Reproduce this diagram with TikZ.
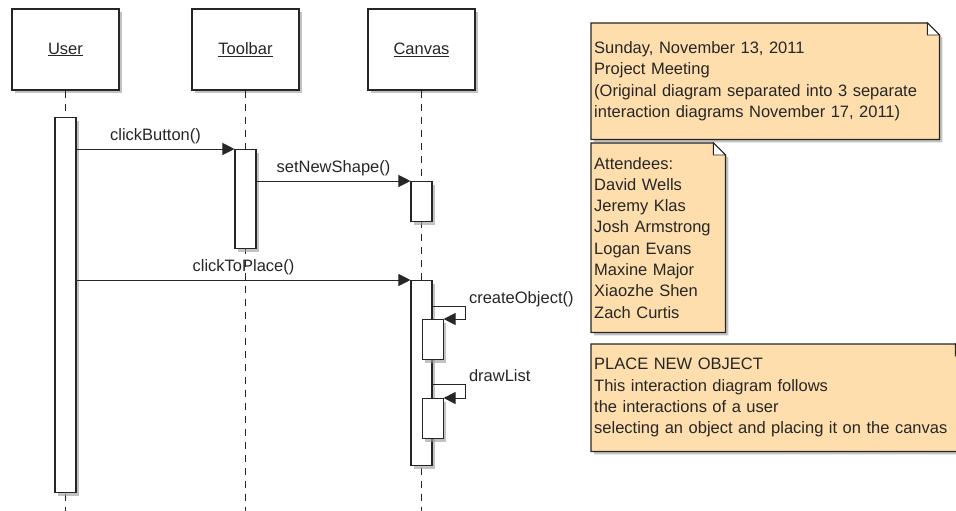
\documentclass[tikz,border=0pt]{standalone}
\usepackage{fontspec}
\setmainfont{Liberation Sans}
\usepackage{xcolor}
\usetikzlibrary{arrows.meta,positioning,shadows,backgrounds}
\definecolor{notefill}{RGB}{255,222,173}

\begin{document}
\begin{tikzpicture}[x=1pt, y=-1pt,
  font=\fontsize{16.5}{21.3}\selectfont, text=black!85,
  shade/.style={drop shadow={shadow xshift=3pt, shadow yshift=-3pt, fill=black!40, opacity=.6}},
  head/.style={draw=black!85, line width=1.2pt, fill=white, shade,
    minimum width=107pt, minimum height=81pt},
  act/.style={draw=black!85, line width=1.1pt, fill=white, shade,
    minimum width=21pt, anchor=north, inner sep=0},
  lifeline/.style={black!85, line width=0.9pt, dash pattern=on 7pt off 6pt},
  msg/.style={black!85, line width=1pt, -{Triangle[length=12pt, width=12pt]}},
  msglab/.style={midway, anchor=base, yshift=8.5pt, inner sep=0},
  note/.style={anchor=north west, inner xsep=3pt, inner ysep=0pt, align=left},
  notebox/.style={draw=black!85, line width=1.2pt, fill=notefill, shade},
  fold/.style={draw=black!85, line width=0.9pt, fill=white}]
\path[use as bounding box, clip] (0,0) rectangle (956,511);
% ---- lifeline heads ----
\node[head] (user) at (65.5,49.5) {\underline{User}};
\node[head] (toolbar) at (245.5,49.5) {\underline{Toolbar}};
\node[head] (canvas) at (421.5,49.5) {\underline{Canvas}};
\draw[lifeline] (user.south) -- (user.south |- 0,511);
\draw[lifeline] (toolbar.south) -- (toolbar.south |- 0,511);
\draw[lifeline] (canvas.south) -- (canvas.south |- 0,511);
% ---- activations ----
\node[act, minimum height=375pt] (ua) at (65.5,117) {};
\node[act, minimum height=99pt] (tb) at (245.5,149) {};
\node[act, minimum height=40pt] (ca1) at (421.5,181) {};
\node[act, minimum height=185pt] (ca2) at (421.5,280) {};
\node[act, minimum height=40pt] (ca3) at (ca2.east |- 0,319) {};
\node[act, minimum height=40pt] (ca4) at (ca2.east |- 0,398) {};
% ---- messages ----
\draw[msg] (ua.east |- tb.north west) -- (tb.north west)
  node[msglab] {clickButton()};
\draw[msg] (tb.east |- ca1.north west) -- (ca1.north west)
  node[msglab] {setNewShape()};
\draw[msg] (ua.east |- ca2.north west) -- (ca2.north west)
  node[msglab] {clickToPlace()};
\draw[msg] (ca2.east |- 0,306) -- ++(33,0)
  node[pos=1, anchor=base west, xshift=3pt, yshift=3pt, inner sep=0] {createObject()}
  |- (ca3.north east);
\draw[msg] (ca2.east |- 0,384) -- ++(33,0)
  node[pos=1, anchor=base west, xshift=3pt, yshift=2.5pt, inner sep=0] {drawList}
  |- (ca4.north east);
% ---- notes ----
\node[note, text width=342pt, minimum height=116pt] (meeting) at (591,23)
  {Sunday, November 13, 2011\\ Project Meeting\\
   (Original diagram separated into 3 separate\\
   interaction diagrams November 17, 2011)};
\node[note, text width=128pt, minimum height=189pt] (attendees) at (591,143)
  {Attendees:\\ David Wells\\ Jeremy Klas\\ Josh Armstrong\\ Logan Evans\\
   Maxine Major\\ Xiaozhe Shen\\ Zach Curtis};
\node[note, text width=370pt, minimum height=107pt] (purpose) at (591,344)
  {PLACE NEW OBJECT\\ This interaction diagram follows\\
   the interactions of a user\\
   selecting an object and placing it on the canvas};
\begin{scope}[on background layer]
\foreach \n in {meeting,attendees,purpose} {
  \draw[notebox] (\n.north west) -- ([xshift=-12pt]\n.north east)
    -- ([yshift=-12pt]\n.north east) -- (\n.south east) -- (\n.south west) -- cycle;
  \draw[fold] ([xshift=-12pt]\n.north east) |- ([yshift=-12pt]\n.north east) -- cycle;
}
\end{scope}
\end{tikzpicture}
\end{document}
